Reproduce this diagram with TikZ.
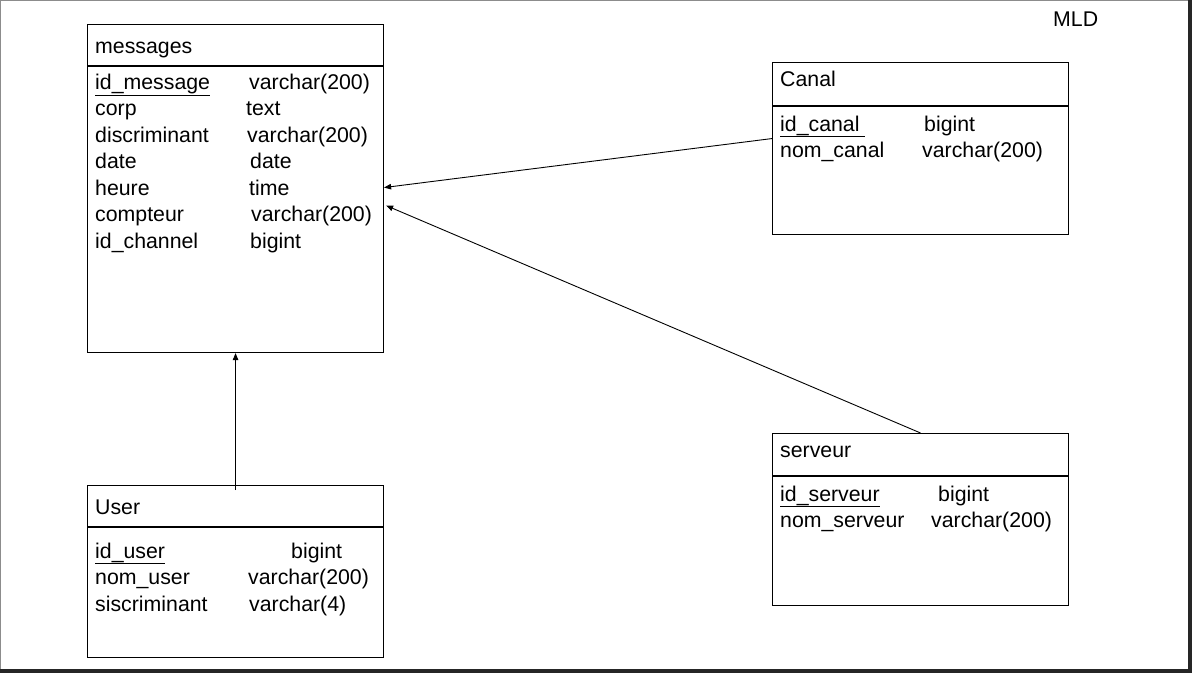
\documentclass[tikz,border=0pt]{standalone}
\usepackage{fontspec}
\setmainfont{Liberation Sans}
\usetikzlibrary{arrows.meta,positioning}

\begin{document}
\begin{tikzpicture}[
  x=1pt,y=-1pt,
  font=\fontsize{21.3}{25}\selectfont,
  tbl/.style={draw,line width=1.1pt,anchor=north west,inner sep=0pt,
              minimum width=296pt},
  sep/.style={line width=1.1pt},
  hdr/.style={anchor=base west,inner sep=0pt},
  fld/.style={anchor=base west,inner sep=0pt},
  arr/.style={-{Triangle[length=7pt,width=5.5pt]},line width=0.9pt}
]
% page and frame
\fill[white] (0,0) rectangle (1192,673);
\useasboundingbox (0,0) rectangle (1192,673);
\draw[black!45,line width=1pt] (0.5,0.5) rectangle (1188,669);
\fill[black!85] (1188,0) rectangle (1192,673);
\fill[black!85] (0,669) rectangle (1192,673);
\node[hdr] (mld) at (1053,26) {MLD};

% tables
\node[tbl,minimum height=328pt] (msg)   at (87,24)  {};
\node[tbl,minimum height=172pt] (canal) at (772,62) {};
\node[tbl,minimum height=172pt] (serv)  at (772,433) {};
\node[tbl,minimum height=172pt] (user)  at (87,485) {};

\coordinate (msgsep)   at (87,66);
\coordinate (canalsep) at (772,106);
\coordinate (servsep)  at (772,476);
\coordinate (usersep)  at (87,527);
\draw[sep] (msgsep)   -- ++(296,0);
\draw[sep] (canalsep) -- ++(296,0);
\draw[sep] (servsep)  -- ++(296,0);
\draw[sep] (usersep)  -- ++(296,0);

% messages
\node[hdr] (msgt) at (95,53) {messages};
\node[fld] (m1) at (95,89)    {\underline{id\_message}};
\node[fld] (m2) at (95,115.5) {corp};
\node[fld] (m3) at (95,142)   {discriminant};
\node[fld] (m4) at (95,168.5) {date};
\node[fld] (m5) at (95,195)   {heure};
\node[fld] (m6) at (95,221.5) {compteur};
\node[fld] (m7) at (95,248)   {id\_channel};
\node[fld] (m1t) at (249,89)    {varchar(200)};
\node[fld] (m2t) at (246,115.5) {text};
\node[fld] (m3t) at (247,142)   {varchar(200)};
\node[fld] (m4t) at (250,168.5) {date};
\node[fld] (m5t) at (249,195)   {time};
\node[fld] (m6t) at (251,221.5) {varchar(200)};
\node[fld] (m7t) at (250,248)   {bigint};

% Canal
\node[hdr] (canalt) at (780,86) {Canal};
\node[fld] (c1)  at (780,131) {\underline{id\_canal\ }};
\node[fld] (c2)  at (780,157) {nom\_canal};
\node[fld] (c1t) at (924,131) {bigint};
\node[fld] (c2t) at (922,157) {varchar(200)};

% serveur
\node[hdr] (servt) at (780,457) {serveur};
\node[fld] (s1)  at (780,501) {\underline{id\_serveur}};
\node[fld] (s2)  at (780,527) {nom\_serveur};
\node[fld] (s1t) at (938,501) {bigint};
\node[fld] (s2t) at (931,527) {varchar(200)};

% User
\node[hdr] (usert) at (95,514) {User};
\node[fld] (u1)  at (95,558) {\underline{id\_user}};
\node[fld] (u2)  at (95,584) {nom\_user};
\node[fld] (u3)  at (95,611) {siscriminant};
\node[fld] (u1t) at (291,558) {bigint};
\node[fld] (u2t) at (248,584) {varchar(200)};
\node[fld] (u3t) at (249,611) {varchar(4)};

% links
\draw[arr] ([yshift=10pt]canal.west) -- ([yshift=1pt]msg.east);
\draw[arr] (serv.north) -- ([yshift=-17pt,xshift=2pt]msg.east);
\draw[arr] ([yshift=-5pt]user.north) -- (msg.south);
\end{tikzpicture}
\end{document}
